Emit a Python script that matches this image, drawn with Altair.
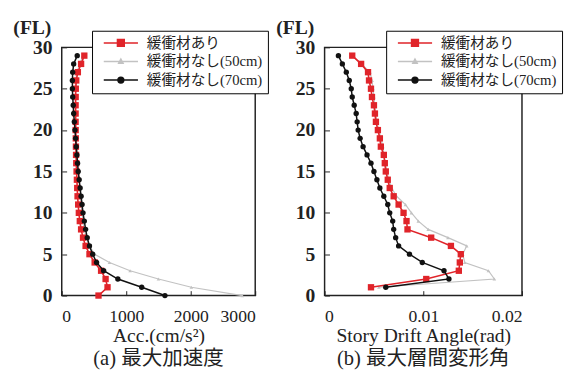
import altair as alt
import pandas as pd

# ---------------- data ----------------
SERIES = ["緩衝材あり", "緩衝材なし(50cm)", "緩衝材なし(70cm)"]

floors_a = list(range(0, 30))
acc_red = [570, 710, 680, 610, 510, 430, 370, 330, 300, 280, 265, 255, 245, 240, 235,
           230, 225, 222, 220, 218, 216, 215, 215, 215, 216, 218, 225, 250, 300, 350]
acc_gray = [2800, 2010, 1500, 1060, 740, 510, 430, 380, 350, 330, 315, 300, 290, 280, 270,
            260, 250, 242, 235, 228, 222, 218, 215, 213, 212, 213, 218, 235, 280, 330]
acc_black = [1600, 1240, 870, 650, 540, 480, 430, 395, 370, 350, 330, 315, 300, 285, 270,
             255, 245, 235, 225, 215, 205, 195, 185, 178, 170, 165, 165, 170, 185, 240]

floors_b = list(range(1, 30))
drift_red = [0.0047, 0.0103, 0.0136, 0.0137, 0.0138, 0.0128, 0.0108, 0.0084, 0.0083, 0.0080,
             0.0075, 0.0070, 0.0066, 0.0064, 0.0062, 0.0061, 0.0060, 0.0057, 0.0056, 0.0054,
             0.0052, 0.0051, 0.0050, 0.0048, 0.0047, 0.0045, 0.0044, 0.0037, 0.0028]
drift_gray = [0.0055, 0.0172, 0.0166, 0.0142, 0.0140, 0.0144, 0.0125, 0.0105, 0.0095, 0.0088,
              0.0082, 0.0073, 0.0068, 0.0065, 0.0063, 0.0062, 0.0060, 0.0059, 0.0057, 0.0055,
              0.0053, 0.0052, 0.0051, 0.0050, 0.0049, 0.0048, 0.0046, 0.0037, 0.0028]
drift_black = [0.0062, 0.0126, 0.0121, 0.0099, 0.0086, 0.0075, 0.0072, 0.0070, 0.0069, 0.0066,
               0.0064, 0.0060, 0.0056, 0.0053, 0.0050, 0.0047, 0.0043, 0.0039, 0.0036, 0.0034,
               0.0033, 0.0032, 0.0030, 0.0028, 0.0027, 0.0025, 0.0022, 0.0018, 0.0014]

y_ticks = [0, 5, 10, 15, 20, 25, 30]
acc_ticks = [0, 1000, 2000, 3000]
drift_ticks = [0, 0.01, 0.02]

# ---------------- styles ----------------
COLORS = ["#e0242a", "#c2c2c2", "#111111"]
SHAPES = ["square", "triangle-up", "circle"]
SIZES = [42, 14, 30]
WIDTHS = [1.6, 1.2, 1.5]
LEGEND_PATHS = [
    "M-3.5,0H3.5M-0.7,-0.7H0.7V0.7H-0.7Z",
    "M-3.5,0H3.5M0,-0.5L0.45,0.35L-0.45,0.35Z",
    "M-3.5,0H3.5M0.6,0A0.6,0.6,0,1,1,-0.6,0A0.6,0.6,0,1,1,0.6,0Z",
]
DRAW_ORDER = [1, 0, 2]  # gray below, then red, black on top

SERIF = "Liberation Serif"
MIXED = "Liberation Serif, Noto Sans CJK JP"
INK = "#222222"


def make_df(floors, series_values):
    rows = []
    for name, vals in zip(SERIES, series_values):
        for f, v in zip(floors, vals):
            rows.append({"series": name, "floor": f, "value": v})
    return pd.DataFrame(rows)


def panel(df, xdomain, xvalues, xfmt, xtitle, caption, w, h, lx, ly):
    x = alt.X("value:Q",
              scale=alt.Scale(domain=xdomain, nice=False, zero=False),
              axis=alt.Axis(values=xvalues, format=xfmt, title=xtitle,
                            labelFont=SERIF, labelFontSize=18, labelColor=INK,
                            labelPadding=13, tickSize=5, tickColor=INK, offset=-5,
                            domain=False, grid=False,
                            titleFont=SERIF, titleFontSize=20, titleFontWeight="normal",
                            titleColor=INK, titleBaseline="alphabetic", titleY=52))
    y = alt.Y("floor:Q",
              scale=alt.Scale(domain=[0, 30], nice=False),
              axis=alt.Axis(values=y_ticks, title="(FL)", titleAngle=0,
                            titleAlign="left", titleBaseline="alphabetic",
                            titleX=-55, titleY=-14, titleFont=SERIF, titleFontSize=20,
                            titleFontWeight="bold", titleColor=INK,
                            labelFont=SERIF, labelFontSize=20, labelFontWeight="bold",
                            labelColor=INK, labelPadding=10, tickSize=5, tickColor=INK,
                            offset=-5, domain=False, grid=False))
    layers = []
    for i in DRAW_ORDER:
        b = alt.Chart(df).transform_filter(alt.datum.series == SERIES[i])
        layers.append(b.mark_line(color=COLORS[i], strokeWidth=WIDTHS[i]).encode(
            x=x, y=y, order="floor:Q"))
        layers.append(b.mark_point(shape=SHAPES[i], filled=True, color=COLORS[i],
                                   size=SIZES[i], opacity=1).encode(x=x, y=y))
    leg = alt.Legend(title=None, orient="none", legendX=lx, legendY=ly,
                     fillColor="white", strokeColor="black", padding=5,
                     labelFont=MIXED, labelFontSize=15, labelColor=INK, labelLimit=0,
                     symbolSize=100, symbolStrokeWidth=1.5, symbolOffset=17,
                     labelOffset=19, rowPadding=3, symbolOpacity=1)
    legend_layer = alt.Chart(df).transform_filter("datum.floor < 0").mark_point(
        filled=True).encode(
        x=x, y=y,
        color=alt.Color("series:N", scale=alt.Scale(domain=SERIES, range=COLORS), legend=leg),
        stroke=alt.Stroke("series:N", scale=alt.Scale(domain=SERIES, range=COLORS), legend=leg),
        shape=alt.Shape("series:N", scale=alt.Scale(domain=SERIES, range=LEGEND_PATHS), legend=leg),
    )
    layers.append(legend_layer)
    return alt.layer(*layers).properties(
        width=w, height=h,
        title=alt.TitleParams(text=caption, orient="bottom", anchor="middle", font=MIXED,
                              fontSize=21, fontWeight="normal", color=INK, offset=3))


df_a = make_df(floors_a, [acc_red, acc_gray, acc_black])
df_b = make_df(floors_b, [drift_red, drift_gray, drift_black])

pa = panel(df_a, [0, 3000], acc_ticks, "d", "Acc.(cm/s²)", "(a) 最大加速度", 198, 254, 31, -17)
pb = panel(df_b, [0, 0.02], drift_ticks, ".2~f", "Story Drift Angle(rad)", "(b) 最大層間変形角",
           202, 254, 63, -17)

chart = alt.hconcat(pa, pb, spacing=5).resolve_scale(
    x="independent", y="independent", color="independent", stroke="independent",
    shape="independent").resolve_legend(
    color="independent", stroke="independent", shape="independent").properties(
    padding={"left": 4, "top": 5, "right": 0, "bottom": 0}
).configure_view(stroke=INK, strokeWidth=1.5)

chart.save("out.html", embed_options={"renderer": "svg", "actions": False})
